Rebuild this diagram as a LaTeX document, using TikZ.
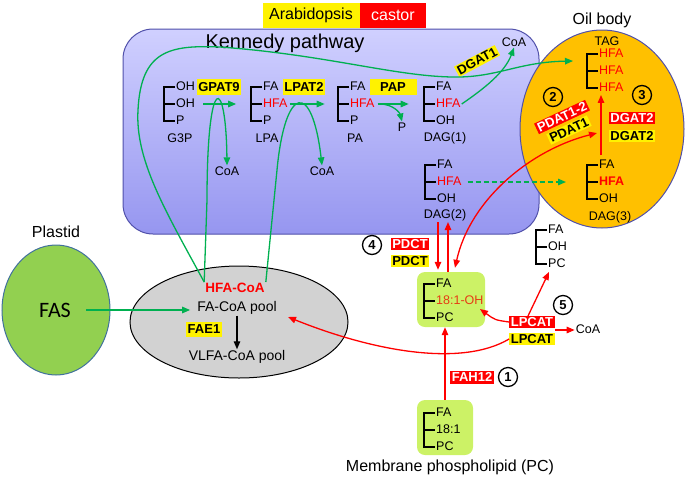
\documentclass[tikz,border=0pt]{standalone}
\usepackage{fontspec}
\setmainfont{Liberation Sans}
\newfontfamily\calibri{Carlito}
\usetikzlibrary{arrows.meta,calc}

\definecolor{kentop}{RGB}{208,208,255}
\definecolor{kenbot}{RGB}{150,150,240}
\definecolor{kenline}{RGB}{80,80,170}
\definecolor{oilfill}{RGB}{255,192,0}
\definecolor{poolfill}{RGB}{210,210,210}
\definecolor{fasfill}{RGB}{146,208,80}
\definecolor{fasline}{RGB}{65,113,156}
\definecolor{pcfill}{RGB}{204,242,102}
\definecolor{grn}{RGB}{0,176,80}
\definecolor{hred}{RGB}{255,0,0}
\definecolor{ored}{RGB}{230,60,20}

% glycerol backbone: name, x, y of first row, three chains
\newcommand{\lipid}[6]{%
    \node [row] (#1-1) at (#2,#3) {#4};
    \node [row] (#1-2) at (#2,#3+17) {#5};
    \node [row] (#1-3) at (#2,#3+34) {#6};
    \draw [bracket] (#1-1.west) -- ++(-11,0) |- (#1-3.west);
    \draw [bracket] (#1-2.west) -- ++(-11,0);
}

\begin{document}
\begin{tikzpicture}[x=1pt,y=-1pt,
    >={Triangle[length=8pt,width=6.5pt]},
    row/.style={anchor=west, inner sep=1pt, font=\fontsize{12.5}{14}\selectfont, text height=9pt, text depth=2.5pt},
    bracket/.style={line width=1.4pt},
    lbl/.style={inner sep=1pt, font=\fontsize{12.5}{14}\selectfont},
    big/.style={inner sep=1pt, font=\fontsize{16}{19}\selectfont},
    pool/.style={inner sep=1pt, font=\fontsize{14}{17}\selectfont},
    legend/.style={font=\fontsize{16}{19}\selectfont, minimum width=97, minimum height=25, inner sep=0pt},
    ybox/.style={fill=yellow, inner xsep=1.5pt, inner ysep=0.8pt, font=\bfseries\fontsize{13}{15}\selectfont, text height=9.5pt, text depth=0.5pt},
    rbox/.style={ybox, fill=red, text=white},
    num/.style={circle, draw, line width=1.3pt, inner sep=0pt, minimum size=19pt, font=\bfseries\fontsize{13}{15}\selectfont},
    pcbox/.style={fill=pcfill, rounded corners=8pt, inner sep=0pt},
    garrow/.style={draw=grn, line width=1.3pt, ->},
    rarrow/.style={draw=hred, line width=1.3pt, ->}]

    \useasboundingbox (0,0) rectangle (685,480);

    % legend
    \node [legend, fill=yellow] (arab) at (311,15.5) {Arabidopsis};
    \node [legend, fill=red, text=white, minimum width=66, anchor=west] (castor) at (arab.east) {castor};

    % compartments
    \draw [draw=kenline, line width=1pt, top color=kentop, bottom color=kenbot, rounded corners=30pt] (123,29) rectangle (539,234);
    \draw [draw=kenline, line width=1pt, fill=oilfill] (602,129) ellipse [x radius=82pt, y radius=99pt];
    \draw [line width=1pt, fill=poolfill] (239,322) ellipse [x radius=109pt, y radius=56pt];
    \draw [draw=fasline, line width=1pt, fill=fasfill] (56,310) ellipse [x radius=54pt, y radius=65pt];
    \node [pcbox, minimum width=68, minimum height=55] (ohbox) at (451,299.5) {};
    \node [pcbox, minimum width=56, minimum height=55] (pc181box) at (445,427.5) {};

    \node [font=\fontsize{20}{24}\selectfont] (kennedy) at (285,43) {Kennedy pathway};
    \node [big] (plastid) at (56,232) {Plastid};
    \node [big] (oil) at (602,20) {Oil body};
    \node [big] (membrane) at (450,467) {Membrane phospholipid (PC)};
    \node [font=\calibri\fontsize{22}{26}\selectfont] (fas) at (55,310) {FAS};

    % lipids
    \lipid{g3p}{175}{87}{OH}{OH}{P}
    \lipid{lpa}{262}{87}{FA}{\textcolor{hred}{HFA}}{P}
    \lipid{pa}{349}{87}{FA}{\textcolor{hred}{HFA}}{P}
    \lipid{dag1}{435}{87}{FA}{\textcolor{hred}{HFA}}{OH}
    \lipid{dag2}{436}{165}{FA}{\textcolor{hred}{HFA}}{OH}
    \lipid{dag3}{598}{165}{FA}{\textcolor{hred}{\bfseries HFA}}{OH}
    \lipid{tag}{598}{54}{\textcolor{hred}{HFA}}{\textcolor{hred}{HFA}}{\textcolor{hred}{HFA}}
    \lipid{lpc}{547}{230}{FA}{OH}{PC}
    \lipid{pcoh}{435}{284}{FA}{\textcolor{ored}{18:1-OH}}{PC}
    \lipid{pc181}{435}{413}{FA}{18:1}{PC}

    \node [lbl] (g3plbl) at (180,138) {G3P};
    \node [lbl] (lpalbl) at (267,138) {LPA};
    \node [lbl] (palbl) at (355,138) {PA};
    \node [lbl] (dag1lbl) at (445,138) {DAG(1)};
    \node [lbl] (dag2lbl) at (445,215) {DAG(2)};
    \node [lbl] (dag3lbl) at (610,217) {DAG(3)};
    \node [lbl] (taglbl) at (607,41) {TAG};
    \node [lbl] (plbl) at (402,127) {P};
    \node [lbl] (coa1) at (227,171) {CoA};
    \node [lbl] (coa2) at (322,171) {CoA};
    \node [lbl] (coa3) at (514,42) {CoA};
    \node [lbl] (coa4) at (588,329) {CoA};

    % acyl-CoA pools
    \node [inner sep=1pt, text=hred, font=\bfseries\fontsize{13.5}{16}\selectfont] (hfacoa) at (235,288) {HFA-CoA};
    \node [pool] (fapool) at (237,308) {FA-CoA pool};
    \node [pool] (vlfa) at (237,357) {VLFA-CoA pool};

    % enzymes
    \node [ybox, minimum height=16] (gpat9) at (219,87) {GPAT9};
    \node [ybox, minimum height=16] (lpat2) at (304,87) {LPAT2};
    \node [ybox, minimum height=16, minimum width=47] (pap) at (393,87) {PAP};
    \node [ybox, rotate=28] (dgat1) at (477,61) {DGAT1};
    \node [rbox, rotate=25] (pdat12) at (562,117) {PDAT1-2};
    \node [ybox, rotate=25] (pdat1) at (569,130) {PDAT1};
    \node [rbox] (dgat2r) at (632,118) {DGAT2};
    \node [ybox] (dgat2y) at (632,136) {DGAT2};
    \node [rbox] (pdctr) at (410,244) {PDCT};
    \node [ybox] (pdcty) at (410,261) {PDCT};
    \node [ybox, minimum height=15] (fae1) at (204,329) {FAE1};
    \node [rbox] (lpcatr) at (532,322) {LPCAT};
    \node [ybox] (lpcaty) at (532,339) {LPCAT};
    \node [rbox, minimum height=13] (fah12) at (472,377) {FAH12};

    \node [num] (n1) at (508,377) {1};
    \node [num] (n2) at (553,97) {2};
    \node [num] (n3) at (642,95) {3};
    \node [num] (n4) at (372,245) {4};
    \node [num] (n5) at (563,305) {5};

    \coordinate (tagin) at (573,61);
    \coordinate (pdatend) at (597,133);
    \coordinate (ohin) at (480,309);
    \coordinate (poolin) at (288,317);

    % Kennedy pathway
    \draw [garrow] ($(g3p-2.east)+(7,0)$) -- ++(33,0);
    \draw [garrow] ($(lpa-2.east)+(1,0)$) -- ++(35,0);
    \draw [garrow] ($(pa-2.east)+(2,0)$) -- ++(31,0);
    \draw [garrow] ($(pa-2.east)+(4,0)$) .. controls +(14,0) and +(-2,-8) .. (plbl.north);
    \draw [garrow] (dag1-2.east) .. controls (485,88) and (505,72) .. (coa3.south);
    \draw [garrow] (hfacoa.north west) -- (207,200) .. controls (207,70) and (226,75) .. (coa1.north);
    \draw [garrow] (hfacoa.north east) -- (277,170) .. controls (285,85) and (312,80) .. (coa2.north);
    \draw [garrow] (hfacoa.north west) .. controls (165,210) and (135,160) .. (138,110)
        .. controls (141,50) and (170,45) .. (220,47)
        .. controls (330,55) and (400,78) .. (460,77)
        .. controls (500,76) and (520,62) .. (tagin);
    \draw [garrow, dash pattern=on 5pt off 3pt] ($(dag2-2.east)+(5,0)$) -- ($(dag3-2.west)+(-32,0)$);

    % plastid and pools
    \draw [garrow] ($(fas.east)+(12,0)$) -- ($(fapool.west)+(-6,2)$);
    \draw [line width=1.3pt, ->] (fapool.south) -- (vlfa.north);

    % PC side
    \draw [rarrow] (pc181box.north) -- (pc181box.north |- ohbox.south);
    \draw [rarrow] ($(dag2lbl.south)+(-7,0)$) -- ($(ohbox.north)+(-13,-2)$);
    \draw [rarrow] ($(ohbox.north)+(-3,0)$) -- ($(dag2lbl.south)+(3,0)$);
    \draw [rarrow, <->] ($(ohbox.north)+(4,-4)$) .. controls (470,200) and (530,150) .. (pdatend);
    \draw [rarrow] ($(dag3-1.north west)+(3,-3)$) -- ($(tag-3.south west)+(3,0)$);
    \draw [rarrow] (lpcatr.west) .. controls (495,320) .. (ohin);
    \draw [rarrow] ($(lpcatr.north)+(-4,0)$) -- ($(lpc-3.south west)+(2,1)$);
    \draw [rarrow] ($(lpcaty.east)+(0,-9)$) -- ($(coa4.west)+(0,1)$);
    \draw [rarrow] (lpcaty.west) .. controls (460,368) and (370,350) .. (poolin);

\end{tikzpicture}
\end{document}
